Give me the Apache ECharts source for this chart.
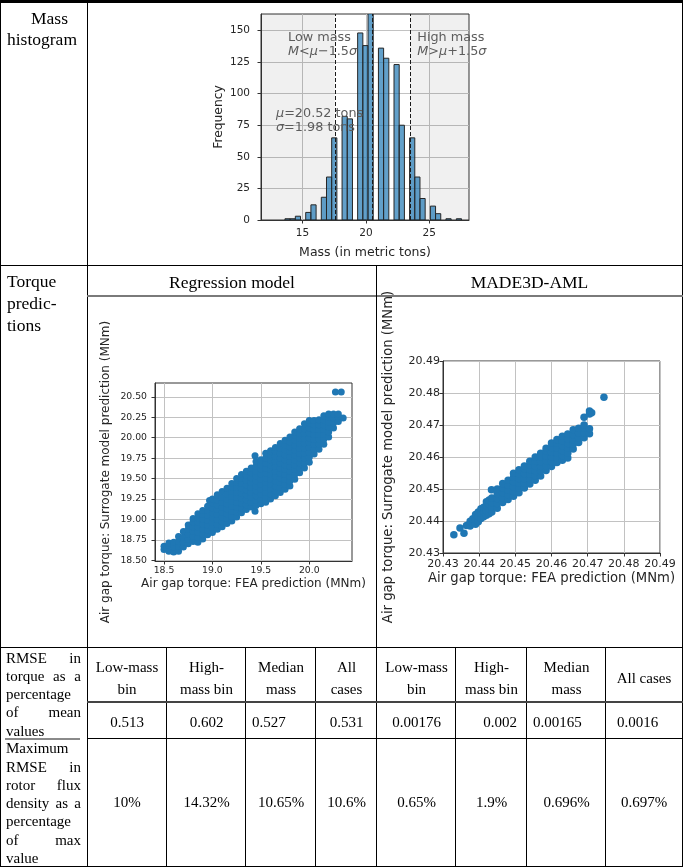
<!DOCTYPE html>
<html>
<head>
<meta charset="utf-8">
<script src="https://cdn.jsdelivr.net/npm/echarts@6.0.0/dist/echarts.min.js"></script>
<style>
html,body{margin:0;padding:0;background:#fff;}
#page{position:relative;width:685px;height:868px;overflow:hidden;font-family:'Liberation Serif','Times New Roman',serif;color:#000;}
#chart{position:absolute;left:0;top:0;width:685px;height:868px;}
.ln{position:absolute;background:#000;}
.tx{position:absolute;white-space:nowrap;font-size:15px;line-height:22.3px;}
.jl{position:absolute;left:6px;width:75px;font-size:15px;line-height:18.3px;}
.jl div{text-align:justify;text-align-last:justify;height:18.3px;white-space:nowrap;}
.jl div.nl{text-align-last:left;}
</style>
</head>
<body>
<div id="page"><div id="chart"></div></div>
<script>
// ---------------- data ----------------
const histEdges = [13.61,14.02,14.43,14.84,15.25,15.66,16.07,16.48,16.89,17.30,17.71,18.12,18.53,18.94,19.35,19.76,20.17,20.58,20.99,21.40,21.81,22.22,22.63,23.04,23.45,23.86,24.27,24.68,25.09,25.50,25.91,26.32,26.73,27.14,27.55];
const histCounts = [1,1,3,0,6,12,0,18,34,65,0,82,80,0,148,138,166,0,136,128,0,123,75,0,65,34,17,0,11,5,0,1,0,1];
const histXTicks = [15,20,25];
const histYTicks = [0,25,50,75,100,125,150];
const massLines = [17.55,20.52,23.49];

const regXTicks = [18.5,19.0,19.5,20.0];
const regYTicks = [18.5,18.75,19.0,19.25,19.5,19.75,20.0,20.25,20.5];
const madeTicks = [20.43,20.44,20.45,20.46,20.47,20.48,20.49];

const regCols = [
 [18.50,[18.63,18.67]],
 [18.53,[18.65]],
 [18.55,[18.61,18.68,18.71]],
 [18.60,[18.60,18.66,18.72]],
 [18.65,[18.61,18.67,18.73,18.79]],
 [18.70,[18.66,18.72,18.78,18.85]],
 [18.75,[18.70,18.76,18.82,18.88,18.93]],
 [18.80,[18.73,18.79,18.85,18.91,18.97,19.01]],
 [18.85,[18.72,18.78,18.84,18.90,18.96,19.02,19.07]],
 [18.90,[18.76,18.82,18.88,18.94,19.00,19.06,19.11]],
 [18.95,[18.81,18.87,18.93,18.99,19.05,19.11,19.16]],
 [18.97,[19.23]],
 [19.00,[18.84,18.90,18.96,19.02,19.08,19.14,19.20,19.25]],
 [19.05,[18.88,18.94,19.00,19.06,19.12,19.18,19.24,19.30]],
 [19.10,[18.91,18.97,19.03,19.09,19.15,19.21,19.27,19.34]],
 [19.15,[18.95,19.01,19.07,19.13,19.19,19.25,19.31,19.38]],
 [19.20,[18.98,19.04,19.10,19.16,19.22,19.28,19.34,19.40,19.44]],
 [19.25,[19.03,19.09,19.15,19.21,19.27,19.33,19.39,19.45,19.50]],
 [19.30,[19.08,19.14,19.20,19.26,19.32,19.38,19.44,19.50,19.55]],
 [19.35,[19.12,19.18,19.24,19.30,19.36,19.42,19.48,19.54,19.59]],
 [19.40,[19.15,19.21,19.27,19.33,19.39,19.45,19.51,19.57,19.63]],
 [19.44,[19.10,19.78]],
 [19.45,[19.17,19.23,19.29,19.35,19.41,19.47,19.53,19.59,19.65,19.71]],
 [19.50,[19.19,19.25,19.31,19.37,19.43,19.49,19.55,19.61,19.67,19.73]],
 [19.55,[19.21,19.27,19.33,19.39,19.45,19.51,19.57,19.63,19.69,19.75,19.81]],
 [19.60,[19.25,19.31,19.37,19.43,19.49,19.55,19.61,19.67,19.73,19.79,19.84]],
 [19.65,[19.29,19.35,19.41,19.47,19.53,19.59,19.65,19.71,19.77,19.83,19.88]],
 [19.70,[19.33,19.39,19.45,19.51,19.57,19.63,19.69,19.75,19.81,19.87,19.93]],
 [19.75,[19.37,19.43,19.49,19.55,19.61,19.67,19.73,19.79,19.85,19.91,19.97]],
 [19.80,[19.41,19.47,19.53,19.59,19.65,19.71,19.77,19.83,19.89,19.95,20.01]],
 [19.85,[19.49,19.55,19.61,19.67,19.73,19.79,19.85,19.91,19.97,20.03,20.07]],
 [19.90,[19.57,19.63,19.69,19.75,19.81,19.87,19.93,19.99,20.05,20.11]],
 [19.95,[19.63,19.69,19.75,19.81,19.87,19.93,19.99,20.05,20.11,20.17]],
 [20.00,[19.70,19.76,19.82,19.88,19.94,20.00,20.06,20.12,20.18,20.21]],
 [20.05,[19.80,19.86,19.92,19.98,20.04,20.10,20.16,20.21]],
 [20.10,[19.86,19.92,19.98,20.04,20.10,20.16,20.22]],
 [20.15,[19.92,19.98,20.04,20.10,20.16,20.22,20.27]],
 [20.20,[20.01,20.07,20.13,20.19,20.25,20.29]],
 [20.25,[20.12,20.18,20.24,20.29]],
 [20.27,[20.56]],
 [20.30,[20.20,20.26,20.29]],
 [20.33,[20.56]],
 [20.35,[20.24]]
];

const madeCols = [
 [20.4330,[20.4357]],
 [20.4347,[20.4378]],
 [20.4358,[20.4362]],
 [20.4365,[20.4386]],
 [20.4375,[20.4384,20.4399]],
 [20.43825,[20.4392,20.4407]],
 [20.4390,[20.4390,20.4405,20.4420]],
 [20.43975,[20.4398,20.4413,20.4428]],
 [20.4405,[20.4408,20.4423,20.4438]],
 [20.44125,[20.4413,20.4428,20.4443]],
 [20.4420,[20.4418,20.4433,20.4448,20.4460]],
 [20.44275,[20.4423,20.4438,20.4453,20.4466]],
 [20.4434,[20.4498]],
 [20.4435,[20.4428,20.4443,20.4458,20.4472]],
 [20.4450,[20.4440,20.4455,20.4470,20.4485,20.4500]],
 [20.4465,[20.4458,20.4473,20.4488,20.4503,20.4517]],
 [20.4480,[20.4467,20.4482,20.4497,20.4512,20.4527]],
 [20.4495,[20.4477,20.4492,20.4507,20.4522,20.4537,20.4549]],
 [20.4510,[20.4488,20.4503,20.4518,20.4533,20.4548,20.4560]],
 [20.4525,[20.4503,20.4518,20.4533,20.4548,20.4563,20.4572]],
 [20.4540,[20.4516,20.4531,20.4546,20.4561,20.4576,20.4587]],
 [20.4555,[20.4527,20.4542,20.4557,20.4572,20.4587,20.4600]],
 [20.4570,[20.4541,20.4556,20.4571,20.4586,20.4601,20.4612]],
 [20.4585,[20.4558,20.4573,20.4588,20.4603,20.4618,20.4627]],
 [20.4600,[20.4570,20.4585,20.4600,20.4615,20.4630,20.4644]],
 [20.4615,[20.4583,20.4598,20.4613,20.4628,20.4643,20.4655]],
 [20.4630,[20.4590,20.4605,20.4620,20.4635,20.4650,20.4665]],
 [20.4645,[20.4597,20.4612,20.4627,20.4642,20.4657,20.4672]],
 [20.4660,[20.4625,20.4640,20.4655,20.4670,20.4685]],
 [20.4675,[20.4645,20.4660,20.4675,20.4690]],
 [20.4690,[20.4660,20.4675,20.4690,20.4700,20.4724]],
 [20.4705,[20.4673,20.4688,20.4734,20.4744]],
 [20.4711,[20.4738]],
 [20.4745,[20.4787]]
];

const binHeads = ['Low-mass<br>bin','High-<br>mass bin','Median<br>mass','All<br>cases','Low-mass<br>bin','High-<br>mass bin','Median<br>mass','All cases'];
const rmseTorque = ['0.513','0.602','0.527','0.531','0.00176','0.002','0.00165','0.0016'];
const rmseFlux = ['10%','14.32%','10.65%','10.6%','0.65%','1.9%','0.696%','0.697%'];

// ---------------- table (HTML) ----------------
const page = document.getElementById('page');
function box(cls, l, t, w, h, bg) {
  const d = document.createElement('div');
  d.className = cls;
  d.style.left = l + 'px'; d.style.top = t + 'px';
  if (w != null) d.style.width = w + 'px';
  if (h != null) d.style.height = h + 'px';
  if (bg) d.style.background = bg;
  page.appendChild(d);
  return d;
}
const colX = [87,167,246,316,377,456,527,606,682];
box('ln', 0, 0, 683, 3);
box('ln', 0, 0, 1, 867);
box('ln', 682, 0, 1, 867);
box('ln', 87, 3, 1, 864);
box('ln', 0, 265, 683, 1);
box('ln', 87, 295, 596, 2, '#7a7a7a');
box('ln', 376, 265, 1, 602);
box('ln', 0, 647, 683, 1);
[167,246,316,456,527,606].forEach(x => box('ln', x - 1, 647, 1, 220));
box('ln', 87, 701, 596, 1.5, '#444');
box('ln', 87, 737.5, 596, 1);
box('ln', 5, 738, 75, 2, '#8a8a8a');
box('ln', 0, 866, 683, 1);

function tx(html, l, t, w, align, size, lh) {
  const d = box('tx', l, t, w, null);
  d.innerHTML = html;
  d.style.textAlign = align || 'left';
  if (size) d.style.fontSize = size + 'px';
  if (lh) d.style.lineHeight = lh + 'px';
  return d;
}
tx('Mass', 31, 7.6, null, 'left', 17.5, 21);
tx('histogram', 7, 28.6, null, 'left', 17.5, 21);
tx('Torque<br>predic-<br>tions', 7, 270.4, null, 'left', 17.5, 22);
tx('Regression model', 87, 270.8, 290, 'center', 17.5, 22);
tx('MADE3D-AML', 377, 270.8, 305, 'center', 17.5, 22);

function jl(lines, top) {
  const d = box('jl', 6, top, 75, null);
  d.innerHTML = lines.map(s => {
    const last = s.startsWith('!');
    return '<div' + (last ? ' class="nl"' : '') + '>' + (last ? s.slice(1) : s) + '</div>';
  }).join('');
}
jl(['RMSE in','torque as a','!percentage','of mean','!values'], 648.5);
jl(['!Maximum','RMSE in','rotor flux','density as a','!percentage','of max','!value'], 739.3);

binHeads.forEach((h, i) => {
  const single = h.indexOf('<br>') < 0;
  tx(h, colX[i], single ? 667 : 655.5, colX[i + 1] - colX[i], 'center', 15, 22.3);
});
const valAlign = ['center','center','left','center','center','right','left','left'];
const valPad = [0,0,6,0,0,10,6,11];
rmseTorque.forEach((v, i) => {
  const w = colX[i + 1] - colX[i];
  const d = tx(v, colX[i], 711, w, valAlign[i], 15, 22.3);
  if (valAlign[i] === 'left') { d.style.paddingLeft = valPad[i] + 'px'; d.style.width = (w - valPad[i]) + 'px'; }
  if (valAlign[i] === 'right') { d.style.paddingRight = valPad[i] + 'px'; d.style.width = (w - valPad[i]) + 'px'; }
});
rmseFlux.forEach((v, i) => {
  tx(v, colX[i], 790.8, colX[i + 1] - colX[i], 'center', 15, 22.3);
});

// ---------------- charts (ECharts) ----------------
const regPoints = [];
regCols.forEach(c => c[1].forEach(y => regPoints.push([c[0], y])));
const madePoints = [];
madeCols.forEach(c => c[1].forEach(y => madePoints.push([c[0], y])));
const histData = histCounts.map((c, i) => [histEdges[i], histEdges[i + 1], c]);

const FF = 'DejaVu Sans';
const spine = '#333333';
const tickCol = '#262626';
const gridCol = '#c2c2c2';

function mkAxis(gi, min, max, ticks, fmt, fs, margin, name, nameGap, nameFs) {
  return {
    gridIndex: gi, type: 'value', min: min, max: max,
    axisLine: {show: true, onZero: false, lineStyle: {color: spine, width: 1}},
    axisTick: {show: true, inside: false, length: 3.5, customValues: ticks, lineStyle: {color: spine, width: 1}},
    axisLabel: {show: true, customValues: ticks, formatter: fmt, fontSize: fs, color: tickCol, fontFamily: FF, margin: margin},
    splitLine: {show: true, lineStyle: {color: gridCol, width: 1}},
    name: name, nameLocation: 'middle', nameGap: nameGap,
    nameTextStyle: {fontSize: nameFs, color: tickCol, fontFamily: FF}
  };
}
const f0 = v => String(v);
const f1 = v => v.toFixed(1);
const f2 = v => v.toFixed(2);

const annColor = '#5c5c5c';
const annRich = {i: {fontStyle: 'italic', fontSize: 12.8, fontFamily: FF, fill: annColor}, n: {fontSize: 12.8, fontFamily: FF, fill: annColor}};
function ann(text, x, y) {
  return {type: 'text', x: x, y: y, z: 100, silent: true,
    style: {text: text, rich: annRich, fontSize: 12.8, fontFamily: FF, fill: annColor, verticalAlign: 'middle', align: 'left'}};
}

const chart = echarts.init(document.getElementById('chart'), null, {renderer: 'canvas'});
chart.setOption({
  animation: false,
  backgroundColor: 'transparent',
  grid: [
    {left: 261, top: 14, width: 208, height: 206, show: true, borderColor: spine, borderWidth: 1, containLabel: false, outerBoundsMode: 'none'},
    {left: 155, top: 383, width: 197, height: 178, show: true, borderColor: spine, borderWidth: 1, containLabel: false, outerBoundsMode: 'none'},
    {left: 443, top: 361, width: 217, height: 192, show: true, borderColor: spine, borderWidth: 1, containLabel: false, outerBoundsMode: 'none'}
  ],
  xAxis: [
    mkAxis(0, 11.72, 28.14, histXTicks, f0, 10.5, 8, 'Mass (in metric tons)', 26, 12.5),
    mkAxis(1, 18.407, 20.441, regXTicks, f1, 9.3, 4.7, 'Air gap torque: FEA prediction (MNm)', 17, 12),
    mkAxis(2, 20.43, 20.49, madeTicks, f2, 11, 6, 'Air gap torque: FEA prediction (MNm)', 19, 13.2)
  ],
  yAxis: [
    mkAxis(0, 0, 163, histYTicks, f0, 10.5, 11, 'Frequency', 36, 12.3),
    mkAxis(1, 18.49, 20.67, regYTicks, f2, 9.3, 8, 'Air gap torque: Surrogate model prediction (MNm)', 43, 12),
    mkAxis(2, 20.43, 20.49, madeTicks, f2, 11, 3, 'Air gap torque: Surrogate model prediction (MNm)', 48, 13.2)
  ],
  series: [
    {type: 'line', xAxisIndex: 0, yAxisIndex: 0, data: [], z: 1, silent: true,
      markArea: {silent: true, itemStyle: {color: 'rgba(0,0,0,0.06)'},
        data: [[{xAxis: 11.72}, {xAxis: massLines[0]}], [{xAxis: massLines[2]}, {xAxis: 28.14}]]}},
    {type: 'custom', xAxisIndex: 0, yAxisIndex: 0, z: 2, clip: true, silent: true,
      data: histData, encode: {x: [0, 1], y: 2},
      renderItem: function (params, api) {
        const c = api.value(2);
        if (!c) return null;
        const p0 = api.coord([api.value(0), c]);
        const p1 = api.coord([api.value(1), 0]);
        return {type: 'rect',
          shape: {x: p0[0], y: p0[1], width: p1[0] - p0[0], height: p1[1] - p0[1]},
          style: {fill: 'rgba(31,119,180,0.7)', stroke: '#262626', lineWidth: 1}};
      }},
    {type: 'line', xAxisIndex: 0, yAxisIndex: 0, data: [], z: 3, silent: true,
      markLine: {silent: true, symbol: ['none', 'none'], label: {show: false},
        lineStyle: {type: [4, 2], color: '#1a1a1a', width: 1},
        data: massLines.map(v => ({xAxis: v}))}},
    {type: 'scatter', xAxisIndex: 1, yAxisIndex: 1, data: regPoints, symbolSize: 7, silent: true,
      itemStyle: {color: '#1f77b4', opacity: 1}},
    {type: 'scatter', xAxisIndex: 2, yAxisIndex: 2, data: madePoints, symbolSize: 7.5, silent: true,
      itemStyle: {color: '#1f77b4', opacity: 1}}
  ],
  graphic: [
    ann('Low mass', 288, 38.1),
    ann('{i|M}{n|<}{i|μ}{n|−1.5}{i|σ}', 288, 51.4),
    ann('High mass', 417.3, 38.1),
    ann('{i|M}{n|>}{i|μ}{n|+1.5}{i|σ}', 417.3, 51.4),
    ann('{i|μ}{n|=20.52 tons}', 276, 113.6),
    ann('{i|σ}{n|=1.98 tons}', 276, 127.2)
  ]
});
</script>
</body>
</html>
